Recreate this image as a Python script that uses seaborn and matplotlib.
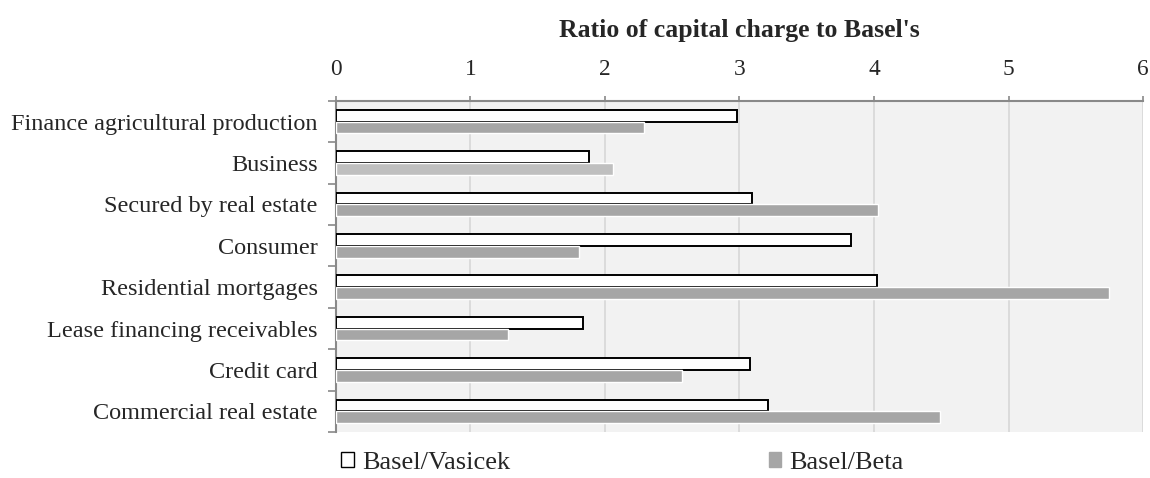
import matplotlib
matplotlib.use("Agg")
import matplotlib.pyplot as plt
from matplotlib.patches import Patch
from matplotlib.ticker import FixedLocator
import pandas as pd
import seaborn as sns

# chart data
categories = [
    "Finance agricultural production",
    "Business",
    "Secured by real estate",
    "Consumer",
    "Residential mortgages",
    "Lease financing receivables",
    "Credit card",
    "Commercial real estate",
]
vasicek = [2.98, 1.88, 3.09, 3.83, 4.02, 1.84, 3.08, 3.21]
beta = [2.29, 2.06, 4.03, 1.81, 5.75, 1.28, 2.57, 4.49]
series = ["Basel/Vasicek", "Basel/Beta"]
x_ticks = [0, 1, 2, 3, 4, 5, 6]

df = pd.DataFrame({
    "category": categories * 2,
    "ratio": vasicek + beta,
    "series": [series[0]] * len(categories) + [series[1]] * len(categories),
})

sns.set_style("white")
plt.rcParams["font.family"] = ["Liberation Serif", "DejaVu Serif"]

fig = plt.figure(figsize=(11.5, 4.78), dpi=100)
ax = fig.add_axes([0.292, 0.096, 0.702, 0.693])
ax.set_facecolor("#F2F2F2")

sns.barplot(data=df, y="category", x="ratio", hue="series", orient="h",
            palette={series[0]: "white", series[1]: "#A6A6A6"},
            width=0.57, dodge=True, legend=False, ax=ax, zorder=3)

# outline the Vasicek bars, lighten Business beta bar as in the original
for p in ax.containers[0]:
    p.set_edgecolor("black")
    p.set_linewidth(1.4)
ax.containers[1][1].set_facecolor("#BFBFBF")

ax.set_xlim(0, 6)
ax.set_ylim(len(categories) - 0.5, -0.5)
ax.xaxis.tick_top()
ax.xaxis.set_label_position("top")
ax.set_xticks(x_ticks)
ax.set_xlabel("Ratio of capital charge to Basel's", fontsize=18.5,
              fontweight="bold", labelpad=16)
ax.set_ylabel("")
ax.grid(axis="x", color="#D9D9D9", linewidth=1.3, zorder=0)
ax.set_axisbelow(True)

ax.tick_params(axis="x", top=True, length=3.6, color="#898989", width=1.2,
               labelsize=16.8, pad=11.5)
ax.tick_params(axis="y", which="major", length=0, labelsize=17.5, pad=13)
ax.yaxis.set_minor_locator(FixedLocator([i - 0.5 for i in range(len(categories) + 1)]))
ax.tick_params(axis="y", which="minor", left=True, length=6, color="#898989", width=1.2)

for side in ["right", "bottom"]:
    ax.spines[side].set_visible(False)
for side in ["top", "left"]:
    ax.spines[side].set_color("#898989")
    ax.spines[side].set_linewidth(1.5)

handles = [
    Patch(facecolor="white", edgecolor="black", linewidth=1.0, label=series[0]),
    Patch(facecolor="#A6A6A6", edgecolor="#A6A6A6", label=series[1]),
]
fig.legend(handles=handles, loc="center left", bbox_to_anchor=(0.2965, 0.031),
           ncol=2, frameon=False, fontsize=19, handlelength=0.49,
           handleheight=0.49, handletextpad=0.3, columnspacing=9.8,
           borderpad=0, borderaxespad=0)

fig.savefig("out.png", dpi=100)
